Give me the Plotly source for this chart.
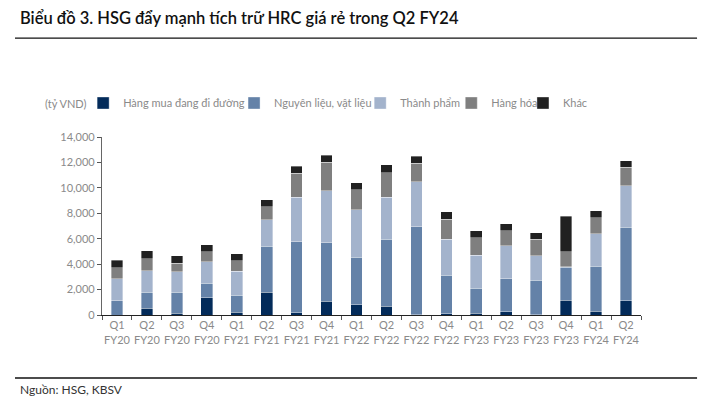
import plotly.graph_objects as go

quarters = ["Q1<br>FY20", "Q2<br>FY20", "Q3<br>FY20", "Q4<br>FY20", "Q1<br>FY21", "Q2<br>FY21",
            "Q3<br>FY21", "Q4<br>FY21", "Q1<br>FY22", "Q2<br>FY22", "Q3<br>FY22", "Q4<br>FY22",
            "Q1<br>FY23", "Q2<br>FY23", "Q3<br>FY23", "Q4<br>FY23", "Q1<br>FY24", "Q2<br>FY24"]

hang_mua = [0, 550, 130, 1360, 210, 1780, 180, 1070, 810, 680, 30, 105, 130, 260, 20, 1150, 290, 1125]
nguyen_lieu = [1125, 1230, 1650, 1125, 1335, 3610, 5600, 4610, 3720, 5260, 6930, 3010, 1960, 2590, 2700, 2590, 3530, 5760]
thanh_pham = [1730, 1700, 1620, 1700, 1880, 2095, 3480, 4080, 3740, 3320, 3510, 2830, 2620, 2590, 1940, 55, 2565, 3300]
hang_hoa = [865, 945, 680, 785, 840, 1020, 1885, 2250, 1600, 1940, 1465, 1570, 1360, 1180, 1280, 1175, 1255, 1440]
khac = [600, 630, 575, 575, 550, 550, 550, 550, 550, 600, 550, 600, 550, 575, 525, 2800, 550, 500]

series_names = ["Hàng mua đang đi đường", "Nguyên liệu, vật liệu", "Thành phẩm", "Hàng hóa", "Khác"]
series_values = [hang_mua, nguyen_lieu, thanh_pham, hang_hoa, khac]
colors = ["#032b5a", "#6482a8", "#a3b3cc", "#7f7f7f", "#212121"]

y_ticks = [0, 2000, 4000, 6000, 8000, 10000, 12000, 14000]

FONT = "Lato"
GRAY = "#8a8a8a"

legend_ids = ["legend", "legend2", "legend3", "legend4", "legend5"]
legend_x = [-0.035, 0.245, 0.479, 0.648, 0.781]

fig = go.Figure()
for name, vals, col, lid in zip(series_names, series_values, colors, legend_ids):
    fig.add_trace(go.Bar(
        x=quarters, y=vals, name=name, legend=lid,
        marker=dict(color=col, line=dict(color="rgba(255,255,255,0.6)", width=0.6)),
    ))

legend_layout = {}
for lid, lx in zip(legend_ids, legend_x):
    legend_layout[lid] = dict(
        orientation="h", x=lx, xanchor="left", y=1.191, yanchor="middle",
        font=dict(family=FONT, size=11, color=GRAY),
        itemwidth=30, bgcolor="rgba(0,0,0,0)", borderwidth=0,
        itemclick=False, itemdoubleclick=False,
    )

fig.update_layout(
    barmode="stack",
    bargap=0.61,
    width=712, height=412,
    margin=dict(l=102, r=71, t=137, b=97, autoexpand=False),
    paper_bgcolor="white", plot_bgcolor="white",
    font=dict(family=FONT, size=11, color=GRAY),
    showlegend=True,
    xaxis=dict(
        showline=True, linecolor="#222222", linewidth=1.2,
        ticks="outside", tickson="boundaries", ticklen=4, tickcolor="#555555",
        tickangle=0,
        tickfont=dict(family=FONT, size=11, color=GRAY),
        showgrid=False, fixedrange=True,
    ),
    yaxis=dict(
        range=[0, 14000], tickvals=y_ticks, tickformat=",d",
        showline=True, linecolor="#666666", linewidth=1.2,
        ticks="outside", ticklen=4, tickcolor="#555555",
        tickfont=dict(family=FONT, size=11, color=GRAY),
        showgrid=False, zeroline=False, fixedrange=True,
    ),
    **legend_layout,
)

fig.add_annotation(text="Biểu đồ 3. HSG đẩy mạnh tích trữ HRC giá rẻ trong Q2 FY24",
                   xref="paper", yref="paper", x=-0.156, y=1.669, xanchor="left", yanchor="middle",
                   showarrow=False, font=dict(family=FONT, size=16.5, color="#111111", weight=600))
fig.add_annotation(text="(tỷ VND)", xref="paper", yref="paper", x=-0.1095, y=1.191,
                   xanchor="left", yanchor="middle", showarrow=False,
                   font=dict(family=FONT, size=11, color=GRAY))
fig.add_annotation(text="Nguồn: HSG, KBSV", xref="paper", yref="paper", x=-0.156, y=-0.421,
                   xanchor="left", yanchor="middle", showarrow=False,
                   font=dict(family=FONT, size=12, color="#333333"))

fig.add_shape(type="line", xref="paper", yref="paper", x0=-0.1614, x1=1.104, y0=1.556, y1=1.556,
              line=dict(color="#111111", width=1.3))
fig.add_shape(type="line", xref="paper", yref="paper", x0=-0.1614, x1=1.104, y0=-0.354, y1=-0.354,
              line=dict(color="#111111", width=1.3))

fig.write_html("out.html", config={"displayModeBar": False},
               post_script="document.body.style.margin='0';document.body.style.padding='0';")
